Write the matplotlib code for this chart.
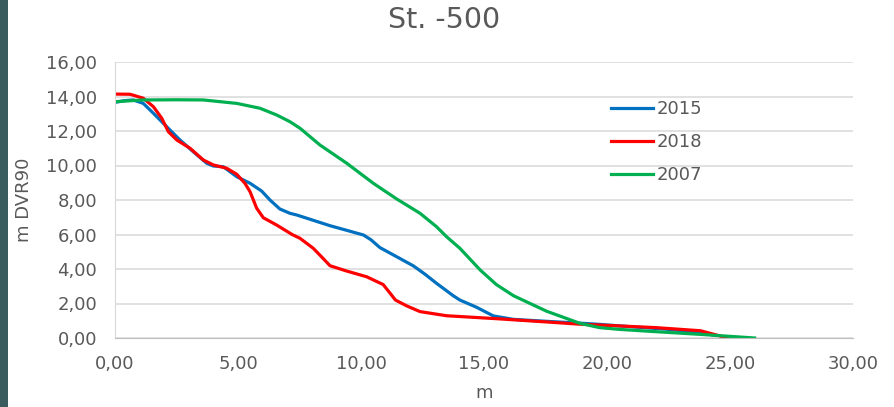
import matplotlib
matplotlib.use("Agg")
import matplotlib.pyplot as plt
from matplotlib.patches import Rectangle
from matplotlib.ticker import FuncFormatter

# profile data (distance m, level m DVR90)
x_2015 = [0.0, 0.4, 0.74, 1.15, 1.56, 2.1, 2.64, 3.18, 3.73, 4.0, 4.4, 4.95, 5.49, 5.96, 6.3, 6.7, 7.11, 7.39, 8.0,
          8.74, 9.4, 10.1, 10.4, 10.77, 11.4, 12.13, 12.6, 13.07, 13.75, 14.02, 14.7, 15.38, 16.2, 17.5, 18.9, 19.7,
          20.9, 22.5, 23.8, 24.4]
y_2015 = [13.66, 13.76, 13.8, 13.6, 13.03, 12.25, 11.48, 10.8, 10.13, 9.97, 9.93, 9.35, 8.97, 8.52, 8.0, 7.48, 7.23,
          7.13, 6.85, 6.51, 6.25, 5.97, 5.7, 5.24, 4.75, 4.18, 3.7, 3.17, 2.45, 2.2, 1.78, 1.28, 1.08, 0.97, 0.86, 0.79,
          0.66, 0.5, 0.31, 0.15]

x_2018 = [0.0, 0.61, 1.15, 1.56, 1.9, 2.17, 2.51, 3.05, 3.59, 4.0, 4.54, 4.95, 5.28, 5.49, 5.76, 6.03, 6.57, 7.2,
          7.52, 8.06, 8.4, 8.74, 9.42, 10.23, 10.6, 10.9, 11.18, 11.4, 11.86, 12.4, 13.48, 15.5, 17.55, 18.9, 20.5,
          22.0, 23.8, 24.2, 24.9]
y_2018 = [14.14, 14.13, 13.9, 13.41, 12.74, 11.96, 11.48, 11.0, 10.32, 10.03, 9.84, 9.49, 8.97, 8.48, 7.52, 6.97,
          6.55, 6.0, 5.78, 5.2, 4.7, 4.19, 3.88, 3.55, 3.3, 3.1, 2.6, 2.2, 1.86, 1.53, 1.29, 1.12, 0.93, 0.8, 0.7,
          0.6, 0.42, 0.27, 0.0]

x_2007 = [0.0, 1.15, 2.5, 3.59, 4.95, 5.89, 6.57, 7.11, 7.52, 8.33, 9.42, 10.5, 11.45, 12.4, 13.07, 13.48, 14.02,
          14.84, 15.5, 16.2, 17.55, 18.9, 19.7, 20.5, 21.6, 23.8, 26.0]
y_2007 = [13.7, 13.8, 13.81, 13.8, 13.6, 13.32, 12.93, 12.54, 12.16, 11.19, 10.13, 8.97, 8.06, 7.23, 6.45, 5.87, 5.2,
          3.95, 3.1, 2.45, 1.55, 0.85, 0.6, 0.5, 0.4, 0.21, 0.0]

grey = "#595959"

fig = plt.figure(figsize=(8.94, 4.07), dpi=100)
fig.patches.append(Rectangle((0, 0), 8 / 894, 1, transform=fig.transFigure,
                             facecolor="#3b5c5e", edgecolor="none", zorder=0))
ax = fig.add_axes([115 / 894, 69 / 407, 738 / 894, 276 / 407])

ax.plot(x_2015, y_2015, color="#0070C0", lw=2.3, label="2015", solid_joinstyle="round")
ax.plot(x_2018, y_2018, color="#FF0000", lw=2.3, label="2018", solid_joinstyle="round")
ax.plot(x_2007, y_2007, color="#00B050", lw=2.3, label="2007", solid_joinstyle="round")

ax.set_xlim(0, 30)
ax.set_ylim(0, 16)
ax.set_xticks(range(0, 31, 5))
ax.set_yticks(range(0, 17, 2))
comma = FuncFormatter(lambda v, p: f"{v:.2f}".replace(".", ","))
ax.xaxis.set_major_formatter(comma)
ax.yaxis.set_major_formatter(comma)
ax.tick_params(length=0, labelsize=13, colors=grey)
ax.tick_params(axis="x", pad=12)
ax.tick_params(axis="y", pad=13)
ax.grid(axis="y", color="#d9d9d9", lw=1.1)
ax.set_axisbelow(True)
for s in ["top", "right"]:
    ax.spines[s].set_visible(False)
ax.spines["left"].set_color("#d9d9d9")
ax.spines["bottom"].set_color("#bfbfbf")

ax.set_xlabel("m", fontsize=13, color=grey, labelpad=8)
ax.set_ylabel("m DVR90", fontsize=13, color=grey, labelpad=9)
fig.text(444 / 894, 1 - 20 / 407, "St. -500", ha="center", va="center", fontsize=20.5, color=grey)

leg = ax.legend(loc="upper left", bbox_to_anchor=(0.65, 0.92), frameon=False, fontsize=13,
                handlelength=2.33, handletextpad=0.22, labelspacing=0.82)
for t in leg.get_texts():
    t.set_color(grey)

fig.savefig("out.png", dpi=100)
